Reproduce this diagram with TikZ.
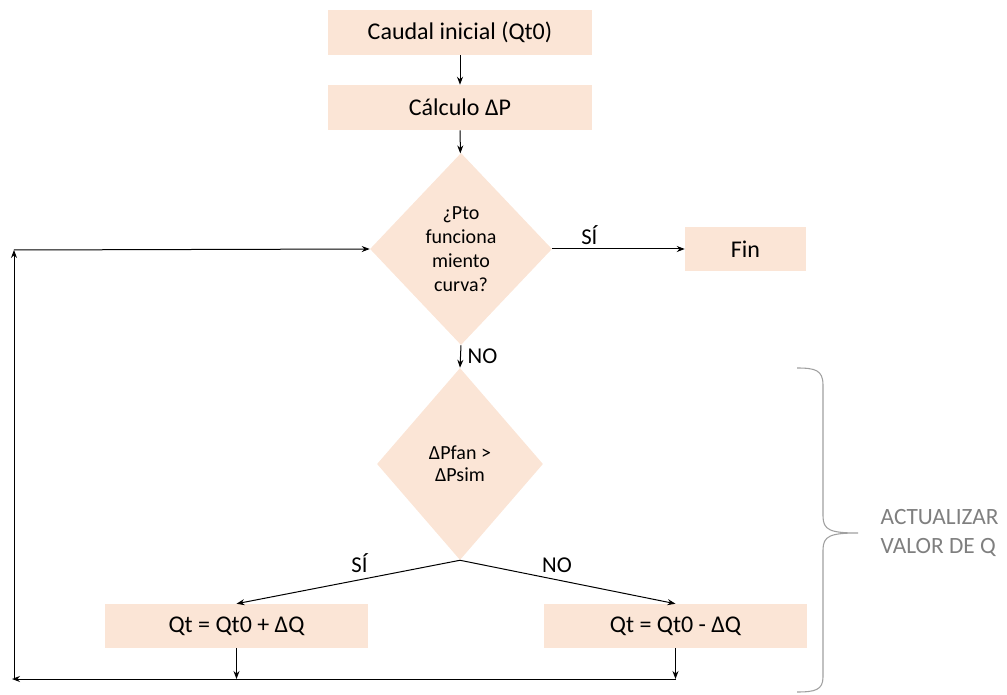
\documentclass[tikz,border=0pt]{standalone}
\usepackage{fontspec}
\setmainfont{Carlito}
\usetikzlibrary{shapes.geometric, arrows.meta}
\definecolor{peach}{RGB}{251,229,214}
\definecolor{bracegray}{RGB}{160,160,160}
\definecolor{labelgray}{RGB}{127,127,127}

\begin{document}
\begin{tikzpicture}[x=0.75pt, y=-0.75pt,
  stepbox/.style={fill=peach, inner sep=0pt, minimum width=198pt, minimum height=33.75pt, font=\fontsize{18}{21}\selectfont},
  decision/.style={diamond, fill=peach, inner sep=0pt, align=center, font=\fontsize{15}{18}\selectfont},
  flow/.style={line width=0.75pt, -{Stealth[length=6pt, width=4.5pt]}},
  tag/.style={font=\fontsize{17}{20}\selectfont, inner sep=2pt}]
\useasboundingbox (0,0) rectangle (1007,695);
% main column
\node[stepbox] (start) at (460,32.5) {Caudal inicial (Qt0)};
\node[stepbox] (calc) at (460,107.5) {Cálculo ΔP};
\node[decision, minimum width=136.5pt, minimum height=144pt] (check) at (461,249) {¿Pto\\funciona\\miento\\curva?};
\node[stepbox, minimum width=90.75pt, minimum height=33pt] (fin) at (745.5,249) {Fin};
\node[decision, minimum width=124.5pt, minimum height=144pt, font=\fontsize{15}{16.5}\selectfont] (compare) at (460,464) {ΔPfan >\\ΔPsim};
\node[stepbox, minimum width=197.25pt, minimum height=33pt] (plus) at (236.5,626) {Qt = Qt0 + ΔQ};
\node[stepbox, minimum width=197.25pt, minimum height=33pt] (minus) at (675.5,626) {Qt = Qt0 - ΔQ};
% return loop
\coordinate (bl) at (12,679);
\coordinate (tl) at (14,250);
\draw[flow] (start) -- (calc);
\draw[flow] (calc) -- (check);
\draw[flow] (check.east) -- node[tag, pos=0.28, above=1pt] {SÍ} (fin.west);
\draw[flow] (check.south) -- node[tag, right=3pt] {NO} (compare.north);
\draw[flow] (compare.south) -- node[tag, pos=0.45, above=3pt] {SÍ} (plus.north);
\draw[flow] (compare.south) -- node[tag, pos=0.45, above=3pt] {NO} (minus.north);
\draw[flow] (plus.south) -- (plus.south |- bl);
\draw[flow] (minus.south) -- (minus.south |- bl);
\draw[flow] (minus.south |- bl) -- (bl);
\draw[flow] (14,679) -- (tl);
\draw[flow] (tl) -- (check.west);
% brace
\draw[bracegray, line width=0.8pt] (797,368) .. controls (815,368) and (823,370) .. (823,385) -- (823,516)
  .. controls (823,530) and (830,533) .. (858,533)
  .. controls (830,533) and (823,536) .. (823,550) -- (823,677)
  .. controls (823,690) and (815,692) .. (797,692);
\node[labelgray, anchor=west, align=left, font=\fontsize{17.5}{21.75}\selectfont] (update) at (876,533) {ACTUALIZAR\\VALOR DE Q};
\end{tikzpicture}
\end{document}
